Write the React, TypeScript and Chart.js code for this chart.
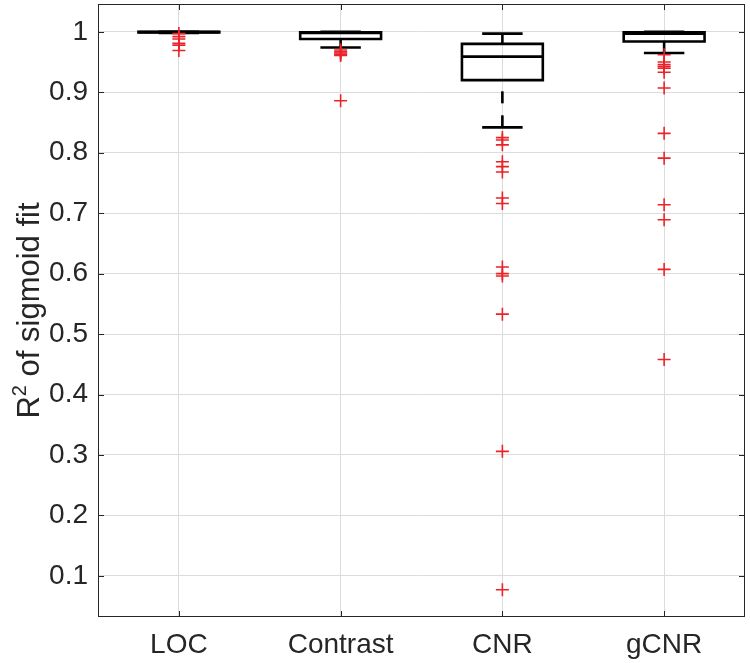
import React, { useEffect, useRef } from 'react';
import { Chart, registerables } from 'chart.js';

Chart.register(...registerables);

const categories = ['LOC', 'Contrast', 'CNR', 'gCNR'];
const upperWhisker = [1.0, 1.0, 0.997, 1.0];
const q3 = [1.0, 0.999, 0.98, 0.999];
const medians = [0.9995, 0.998, 0.959, 0.997];
const q1 = [0.999, 0.988, 0.92, 0.984];
const lowerWhisker = [0.998, 0.974, 0.842, 0.965];

const outliersLOC = [0.997, 0.992, 0.988, 0.981, 0.978, 0.969];
const outliersContrast = [0.97, 0.967, 0.965, 0.963, 0.961, 0.886];
const outliersCNR = [0.825, 0.821, 0.813, 0.785, 0.777, 0.768, 0.725, 0.716, 0.611, 0.6, 0.596, 0.533, 0.306, 0.077];
const outliersGCNR = [0.962, 0.95, 0.946, 0.943, 0.94, 0.933, 0.907, 0.832, 0.791, 0.714, 0.689, 0.607, 0.458];
const outliers = [outliersLOC, outliersContrast, outliersCNR, outliersGCNR];

const yTicks = [0.1, 0.2, 0.3, 0.4, 0.5, 0.6, 0.7, 0.8, 0.9, 1];
const yMin = 0.032;
const yMax = 1.046;

const FONT = '"Liberation Sans", Arial, Helvetica, sans-serif';
const AXIS = '#262626';

export default function App() {
  const ref = useRef<HTMLCanvasElement>(null);

  useEffect(() => {
    document.body.style.margin = '0';
    const canvas = ref.current;
    if (!canvas) return;

    const boxPlugin = {
      id: 'boxes',
      beforeDatasetsDraw(chart: any) {
        const { ctx, chartArea: ca, scales } = chart;
        const x = scales.x;
        const y = scales.y;
        ctx.save();
        ctx.strokeStyle = AXIS;
        ctx.lineWidth = 1;
        ctx.strokeRect(ca.left + 0.5, ca.top + 0.5, ca.right - ca.left - 1, ca.bottom - ca.top - 1);
        ctx.beginPath();
        yTicks.forEach((v) => {
          const py = Math.round(y.getPixelForValue(v)) + 0.5;
          ctx.moveTo(ca.left, py);
          ctx.lineTo(ca.left + 6, py);
          ctx.moveTo(ca.right, py);
          ctx.lineTo(ca.right - 6, py);
        });
        categories.forEach((_, i) => {
          const px = Math.round(x.getPixelForValue(i + 1)) + 0.5;
          ctx.moveTo(px, ca.top);
          ctx.lineTo(px, ca.top + 6);
          ctx.moveTo(px, ca.bottom);
          ctx.lineTo(px, ca.bottom - 6);
        });
        ctx.stroke();

        ctx.strokeStyle = '#000';
        ctx.lineWidth = 2.6;
        categories.forEach((_, i) => {
          const xc = x.getPixelForValue(i + 1);
          const hw = x.getPixelForValue(i + 1.25) - xc;
          const cw = hw / 2;
          const yUW = y.getPixelForValue(upperWhisker[i]);
          const yQ3 = y.getPixelForValue(q3[i]);
          const yMed = y.getPixelForValue(medians[i]);
          const yQ1 = y.getPixelForValue(q1[i]);
          const yLW = y.getPixelForValue(lowerWhisker[i]);
          ctx.setLineDash([12, 12]);
          ctx.beginPath();
          ctx.moveTo(xc, yUW);
          ctx.lineTo(xc, yQ3);
          ctx.stroke();
          ctx.beginPath();
          ctx.moveTo(xc, yLW);
          ctx.lineTo(xc, yQ1);
          ctx.stroke();
          ctx.setLineDash([]);
          ctx.beginPath();
          ctx.moveTo(xc - cw, yUW);
          ctx.lineTo(xc + cw, yUW);
          ctx.moveTo(xc - cw, yLW);
          ctx.lineTo(xc + cw, yLW);
          ctx.stroke();
          ctx.beginPath();
          ctx.rect(xc - hw, yQ3, hw * 2, yQ1 - yQ3);
          ctx.stroke();
          ctx.beginPath();
          ctx.moveTo(xc - hw, yMed);
          ctx.lineTo(xc + hw, yMed);
          ctx.stroke();
        });
        ctx.restore();
      },
      afterDraw(chart: any) {
        const { ctx, chartArea: ca } = chart;
        ctx.save();
        const cy = (ca.top + ca.bottom) / 2;
        ctx.translate(39, cy);
        ctx.rotate(-Math.PI / 2);
        ctx.fillStyle = AXIS;
        ctx.textBaseline = 'alphabetic';
        const main = `31px ${FONT}`;
        const sup = `20px ${FONT}`;
        ctx.font = main;
        const wR = ctx.measureText('R').width;
        const rest = ' of sigmoid fit';
        const wRest = ctx.measureText(rest).width;
        ctx.font = sup;
        const w2 = ctx.measureText('2').width;
        const total = wR + w2 + wRest;
        let sx = -total / 2;
        ctx.font = main;
        ctx.fillText('R', sx, 0);
        sx += wR;
        ctx.font = sup;
        ctx.fillText('2', sx, -13);
        sx += w2;
        ctx.font = main;
        ctx.fillText(rest, sx, 0);
        ctx.restore();
      },
    };

    const scatterData = outliers.flatMap((arr, i) => arr.map((v) => ({ x: i + 1, y: v })));

    const chart = new Chart(canvas, {
      type: 'scatter',
      data: {
        datasets: [
          {
            data: scatterData,
            pointStyle: 'cross',
            radius: 6.5,
            borderColor: 'rgb(235,35,40)',
            backgroundColor: 'rgb(235,35,40)',
            borderWidth: 1.6,
          },
        ],
      },
      options: {
        animation: false,
        responsive: true,
        maintainAspectRatio: false,
        layout: { autoPadding: false, padding: { top: 4, right: 5, left: 0, bottom: 0 } },
        plugins: { legend: { display: false }, tooltip: { enabled: false } },
        scales: {
          x: {
            type: 'linear',
            min: 0.5,
            max: 4.5,
            afterBuildTicks: (scale: any) => {
              scale.ticks = categories.map((_, i) => ({ value: i + 1 }));
            },
            afterFit: (scale: any) => {
              scale.height = 46;
              scale.paddingLeft = 0;
              scale.paddingRight = 0;
            },
            ticks: {
              callback: (v: any) => categories[Math.round(v) - 1] ?? '',
              font: { family: FONT, size: 28 },
              color: AXIS,
              padding: 11,
              maxRotation: 0,
            },
            grid: { color: '#dcdcdc', lineWidth: 1, drawTicks: false },
            border: { display: false },
          },
          y: {
            type: 'linear',
            min: yMin,
            max: yMax,
            afterBuildTicks: (scale: any) => {
              scale.ticks = yTicks.map((v) => ({ value: v }));
            },
            afterFit: (scale: any) => {
              scale.width = 98;
              scale.paddingTop = 0;
              scale.paddingBottom = 0;
            },
            ticks: {
              callback: (v: any) => String(Math.round(v * 10) / 10),
              font: { family: FONT, size: 28 },
              color: AXIS,
              padding: 10,
            },
            grid: { color: '#dcdcdc', lineWidth: 1, drawTicks: false },
            border: { display: false },
          },
        },
      },
      plugins: [boxPlugin],
    } as any);

    return () => chart.destroy();
  }, []);

  return (
    <div style={{ position: 'absolute', left: 0, top: 0, width: 750, height: 663, background: '#fff' }}>
      <canvas ref={ref} />
    </div>
  );
}
